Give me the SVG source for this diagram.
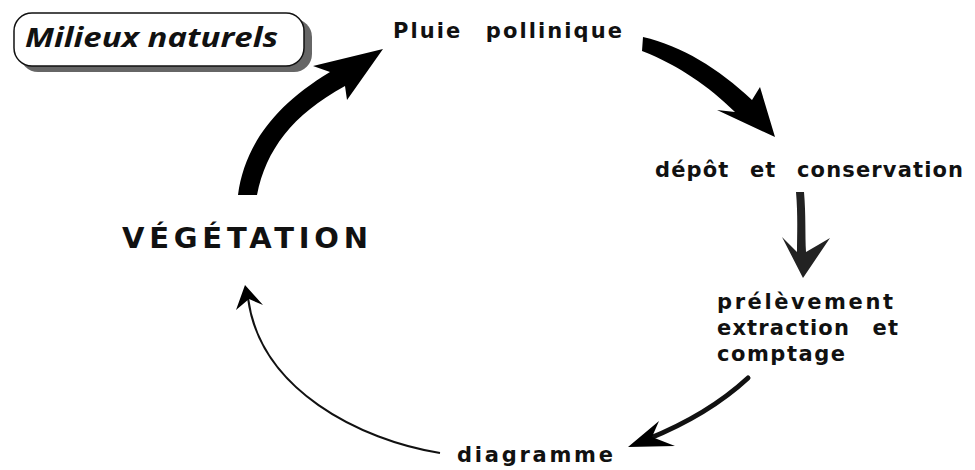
<svg xmlns="http://www.w3.org/2000/svg" width="975" height="470" viewBox="0 0 975 470">
<style>
.t{font-family:"DejaVu Sans","Liberation Sans",sans-serif;font-weight:700;fill:#111;font-size:21px}
.a{fill:#000}
</style>
<rect width="975" height="470" fill="#fff"/>
<g id="milieux">
<rect x="20" y="19" width="292" height="53" rx="18" fill="#666"/>
<rect x="14" y="13" width="290" height="53" rx="18" fill="#fff" stroke="#111" stroke-width="1.5"/>
<text x="25" y="47" style="font-family:'Open Sans','Liberation Sans',sans-serif;font-weight:700;font-style:italic;font-size:26px;fill:#111" textLength="253" lengthAdjust="spacingAndGlyphs">Milieux naturels</text>
</g>
<g id="pluie"><text x="393" y="38" class="t" textLength="229" lengthAdjust="spacing" style="word-spacing:14px">Pluie pollinique</text></g>
<g id="depot"><text x="655" y="177" class="t" textLength="308" lengthAdjust="spacing" style="word-spacing:12px">dépôt et conservation</text></g>
<g id="vegetation"><text x="122" y="248" class="t" style="font-size:29px" textLength="246" lengthAdjust="spacing">VÉGÉTATION</text></g>
<g id="prelevement">
<text x="717" y="309" class="t" textLength="176" lengthAdjust="spacing">prélèvement</text>
<text x="717" y="335" class="t" textLength="181" lengthAdjust="spacing" style="word-spacing:14px">extraction et</text>
<text x="717" y="361" class="t" textLength="128" lengthAdjust="spacing">comptage</text>
</g>
<g id="diagramme"><text x="457" y="462" class="t" textLength="156" lengthAdjust="spacing">diagramme</text></g>
<g id="connectors">
<path class="a" d="M238,195 C244,150 270,108 330,72 L313,66 L383,49 L347,100 L345,86 C292,115 266,150 257,195 Z"/>
<path class="a" d="M643,37 C682,46 718,68 752,100 L760,87 L775,137 L717,110 L735,112 C708,86 680,66 642,51 Z"/>
<path fill="#222" d="M796,192 L804,192 C806,215 805,235 806,252 L830,238 L803,278 L782,237 L797,252 C797,235 798,215 796,192 Z"/>
<path d="M748,378 C722,402 690,422 648,439" fill="none" stroke="#111" stroke-width="5" stroke-linecap="round"/>
<path class="a" d="M628,447 L659,421 L652,437 L675,446 Z"/>
<path d="M440,453 C360,440 260,390 248,298" fill="none" stroke="#111" stroke-width="2"/>
<path class="a" d="M245,285 L263,305 L249,299 L236,310 Z"/>
</g>
</svg>
